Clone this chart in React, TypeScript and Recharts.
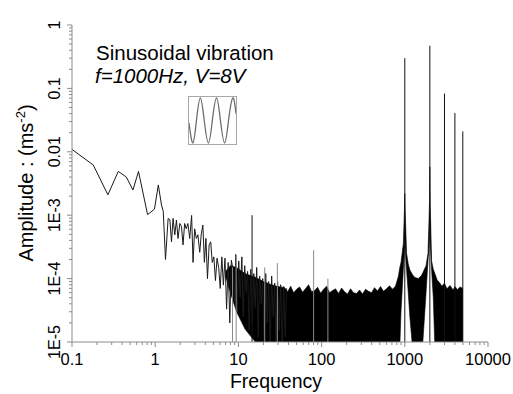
import { ComposedChart, LineChart, Line, Area, XAxis, YAxis } from "recharts";

// low frequency trace (Hz, m/s^2)
const lowFreq = [
  0.1, 0.18, 0.27, 0.36, 0.45, 0.54, 0.63, 0.81, 0.98, 1.09,
  1.19, 1.25, 1.33, 1.43, 1.5, 1.57, 1.64, 1.72, 1.8, 1.88,
  1.98, 2.07, 2.16, 2.26, 2.36, 2.47, 2.6, 2.74, 2.85, 2.98,
  3.12, 3.26, 3.43, 3.58, 3.74, 3.9, 4.07, 4.25, 4.45, 4.65,
  4.85, 5.07, 5.3, 5.54, 5.79, 6.05, 6.32, 6.6, 6.9, 7.21,
  7.54, 7.88, 8.23, 8.6, 9.0, 9.29, 9.69, 10.1, 10.5, 11.0,
  11.4, 11.9, 12.4, 12.9, 13.5, 14.1, 14.7, 15.3, 15.9, 16.6,
  17.3, 18.0, 18.8, 19.6, 20.4, 21.3, 22.2, 23.1, 24.1, 25.1,
  26.2, 27.3, 28.4, 29.6, 30.9, 32.2, 33.6, 35.0, 36.5, 38.0,
];
const lowAmp = [
  0.0109, 0.0062, 0.0021, 0.0049, 0.004, 0.0025, 0.0049, 0.00102, 0.00125, 0.003,
  0.00145, 0.00115, 0.0002, 0.00089, 0.00085, 0.00038, 0.00089, 0.00049, 0.00084, 0.00043,
  0.00074, 0.00066, 0.00034, 0.00074, 0.00061, 0.00074, 0.00043, 0.00099, 0.00018, 0.00061,
  0.00043, 0.00049, 0.00026, 0.00051, 0.0007, 0.00018, 0.00043, 0.0001, 0.00034, 0.00038,
  0.00018, 0.00022, 0.000093, 0.00021, 0.00015, 0.00007, 0.00022, 0.000079, 0.00021, 0.000033,
  0.00018, 0.00002, 0.000195, 0.00014, 0.000043, 0.00024, 0.00003, 0.00019, 0.00005, 0.00022,
  0.000025, 0.00016, 0.00006, 0.00013, 0.000015, 0.00014, 0.00002, 0.00012, 0.000035, 0.00015,
  0.000012, 0.00011, 0.00004, 0.0001, 0.000008, 0.00012, 0.00002, 0.00009, 0.000008, 0.00011,
  0.000025, 0.000085, 0.000008, 0.00009, 0.000015, 0.00008, 0.000008, 0.000075, 0.000012, 0.00007,
];

// dense noise band: lower / upper envelope
const F = 8e-6; // below the axis floor
const bandFreq = [
  7, 8, 9.5, 12, 16, 20, 25, 30,
  36.0, 39.1, 42.5, 46.1, 50.1, 54.4, 59.1, 64.3, 69.8, 75.9,
  82.4, 89.5, 97.3, 105.7, 114.8, 124.7, 135.5, 147.2, 159.9, 173.8,
  188.8, 205.1, 222.8, 242.1, 263, 285.8, 310.5, 337.3, 366.4, 398.1,
  432.5, 469.9, 510.5, 554.6, 602.6, 654.6, 711.2, 772.7, 839.5,
  870, 900, 960, 990, 1000, 1010, 1050, 1100, 1150, 1240,
  1310, 1450, 1570, 1630, 1800, 1900, 1980, 2000, 2020, 2100,
  2200, 2300, 2450, 2620, 2800, 3000, 3200, 3500, 3800, 4000,
  4300, 4600, 5000,
];
const bandLow = [
  1.1e-4, 6e-5, 3e-5, 1.6e-5, 1e-5, F, F, F,
  F, F, F, F, F, F, F, F, F, F,
  F, F, F, F, F, F, F, F, F, F,
  F, F, F, F, F, F, F, F, F, F,
  F, F, F, F, F, F, F, F, F,
  F, 3e-5, 1.37e-4, 3e-4, 5e-4, 3e-4, 1.37e-4, 6e-5, 2.5e-5, F,
  F, F, F, F, 6e-5, 1.9e-4, 4e-4, 8e-4, 4e-4, 1.37e-4,
  5e-5, F, F, F, F, F, F, F, F, F,
  F, F, F,
];
const bandHigh = [
  1.3e-4, 1.6e-4, 1.5e-4, 1.2e-4, 1.05e-4, 9e-5, 8e-5, 7.5e-5,
  7.2e-5, 6.2e-5, 7.6e-5, 6.0e-5, 6.8e-5, 7.4e-5, 6.1e-5, 7.0e-5, 8.0e-5, 6.2e-5,
  6.5e-5, 7.3e-5, 5.9e-5, 6.8e-5, 7.6e-5, 6.0e-5, 6.5e-5, 6.9e-5, 5.8e-5, 7.1e-5,
  6.2e-5, 5.7e-5, 6.9e-5, 6.0e-5, 5.8e-5, 6.6e-5, 5.7e-5, 6.8e-5, 6.3e-5, 6.0e-5,
  7.2e-5, 6.4e-5, 7.5e-5, 6.3e-5, 6.9e-5, 7.7e-5, 6.8e-5, 7.6e-5, 1.1e-4,
  1.5e-4, 1.8e-4, 3.5e-4, 1.2e-3, 2.2e-3, 1.2e-3, 2.5e-4, 1.7e-4, 1.37e-4, 1.15e-4,
  1.05e-4, 1.0e-4, 1.1e-4, 1.2e-4, 1.6e-4, 2.5e-4, 1.5e-3, 5.8e-3, 1.5e-3, 1.9e-4,
  1.4e-4, 1.2e-4, 9.5e-5, 8.6e-5, 7.6e-5, 8.5e-5, 6.9e-5, 7.8e-5, 6.6e-5, 7.5e-5,
  6.7e-5, 7.4e-5, 7.0e-5,
];

// harmonic lines and isolated spikes
const spikeFreq = [14.6, 1000, 2000, 3000, 4000, 4980];
const spikeTop = [1.0e-3, 0.3, 0.47, 0.083, 0.041, 0.021];
const greySpikeFreq = [8.5, 9.4, 20.7, 29.4, 80.2, 119];
const greySpikeTop = [1.5e-4, 2.3e-4, 1.5e-4, 1.76e-4, 2.8e-4, 1.0e-4];

// inset sketch of the excitation
const insetPhase = [0, 12, 23, 35, 47, 60, 72, 85, 97, 110, 122, 135, 145];
const insetValue = [-0.1, -1, 0, 1, 0, -1, 0, 1, 0, -1, 0, 1, 0.3];

const xMajor = [0.1, 1, 10, 100, 1000, 10000];
const xLabels = ["0.1", "1", "10", "100", "1000", "10000"];
const yMajor = [1e-5, 1e-4, 1e-3, 0.01, 0.1, 1];
const yLabels = ["1E-5", "1E-4", "1E-3", "0.01", "0.1", "1"];
const minorSteps = [2, 3, 4, 5, 6, 7, 8, 9];

const withMinor = (major: number[]) =>
  [...major, ...major.slice(0, -1).flatMap((d) => minorSteps.map((m) => d * m))].sort((a, b) => a - b);
const xTicks = withMinor(xMajor);
const yTicks = withMinor(yMajor);
const majorIndex = (major: number[], v: number) => major.findIndex((m) => Math.abs(v / m - 1) < 1e-6);

const lowData = lowFreq.map((f, i) => ({ f, a: lowAmp[i] }));
const bandData = bandFreq.map((f, i) => ({ f, r: [bandLow[i], bandHigh[i]] }));
const insetData = insetPhase.map((p, i) => ({ p, v: insetValue[i] }));

const AXIS = "#8c8c8c";
const FONT = "'Liberation Sans', Arial, sans-serif";

function BottomTick({ x, y, payload }: any) {
  const i = majorIndex(xMajor, payload.value);
  return (
    <g>
      <line x1={x} y1={y} x2={x} y2={y + (i >= 0 ? 5 : 3)} stroke={AXIS} />
      {i >= 0 && (
        <text x={x} y={y + 23} textAnchor="middle" fontSize={16.5} fontFamily={FONT} fill="#000">
          {xLabels[i]}
        </text>
      )}
    </g>
  );
}

function TopTick({ x, y, payload }: any) {
  const i = majorIndex(xMajor, payload.value);
  return <line x1={x} y1={y} x2={x} y2={y + (i >= 0 ? 5 : 3)} stroke={AXIS} />;
}

function LeftTick({ x, y, payload }: any) {
  const i = majorIndex(yMajor, payload.value);
  return (
    <g>
      <line x1={x} y1={y} x2={x - (i >= 0 ? 5 : 3)} y2={y} stroke={AXIS} />
      {i >= 0 && (
        <text
          transform={`translate(${x - 12},${y}) rotate(-90)`}
          textAnchor="middle"
          fontSize={16}
          fontFamily={FONT}
          fill="#000"
        >
          {yLabels[i]}
        </text>
      )}
    </g>
  );
}

function RightTick({ x, y, payload }: any) {
  const i = majorIndex(yMajor, payload.value);
  return <line x1={x} y1={y} x2={x - (i >= 0 ? 5 : 3)} y2={y} stroke={AXIS} />;
}

export default function App() {
  return (
    <div style={{ position: "absolute", left: 0, top: 0, width: 513, height: 394, background: "#fff" }}>
      <ComposedChart width={513} height={394} margin={{ top: 25, right: 25, bottom: 0, left: 0 }}>
        <XAxis
          dataKey="f"
          type="number"
          scale="log"
          domain={[0.1, 10000]}
          allowDataOverflow
          ticks={xTicks}
          interval={0}
          height={52}
          tickSize={0}
          tickMargin={0}
          tickLine={false}
          axisLine={{ stroke: AXIS }}
          tick={BottomTick}
        />
        <XAxis
          xAxisId="top"
          orientation="top"
          dataKey="f"
          type="number"
          scale="log"
          domain={[0.1, 10000]}
          allowDataOverflow
          ticks={xTicks}
          interval={0}
          height={0}
          tickSize={0}
          tickMargin={0}
          tickLine={false}
          axisLine={{ stroke: AXIS }}
          tick={TopTick}
        />
        <YAxis
          type="number"
          scale="log"
          domain={[1e-5, 1]}
          allowDataOverflow
          ticks={yTicks}
          interval={0}
          width={72}
          tickSize={0}
          tickMargin={0}
          tickLine={false}
          axisLine={{ stroke: AXIS }}
          tick={LeftTick}
        />
        <YAxis
          yAxisId="right"
          orientation="right"
          type="number"
          scale="log"
          domain={[1e-5, 1]}
          allowDataOverflow
          ticks={yTicks}
          interval={0}
          width={0}
          tickSize={0}
          tickMargin={0}
          tickLine={false}
          axisLine={{ stroke: AXIS }}
          tick={RightTick}
        />
        <Area
          data={bandData}
          dataKey="r"
          type="linear"
          fill="#000"
          fillOpacity={1}
          stroke="#000"
          strokeWidth={0.6}
          isAnimationActive={false}
        />
        <Line
          data={lowData}
          dataKey="a"
          type="linear"
          stroke="#1a1a1a"
          strokeWidth={1}
          dot={false}
          isAnimationActive={false}
        />
        {greySpikeFreq.map((f, i) => (
          <Line
            key={`g${i}`}
            data={[{ f, a: F }, { f, a: greySpikeTop[i] }]}
            dataKey="a"
            stroke="#8a8a8a"
            strokeWidth={1}
            dot={false}
            isAnimationActive={false}
          />
        ))}
        {spikeFreq.map((f, i) => (
          <Line
            key={`s${i}`}
            data={[{ f, a: F }, { f, a: spikeTop[i] }]}
            dataKey="a"
            stroke="#111"
            strokeWidth={1}
            dot={false}
            isAnimationActive={false}
          />
        ))}
      </ComposedChart>

      <svg
        width={513}
        height={394}
        style={{ position: "absolute", left: 0, top: 0, pointerEvents: "none" }}
        fontFamily={FONT}
      >
        <text x={96} y={60} fontSize={20.5} fill="#000">
          Sinusoidal vibration
        </text>
        <text x={95} y={83} fontSize={20.5} fontStyle="italic" fill="#000">
          f=1000Hz, V=8V
        </text>
        <text x={276} y={388} fontSize={19.5} textAnchor="middle" fill="#000">
          Frequency
        </text>
        <text transform="translate(33,183) rotate(-90)" fontSize={20} textAnchor="middle" fill="#000">
          Amplitude : (ms
          <tspan dy={-8} fontSize={13}>
            -2
          </tspan>
          <tspan dy={8}>)</tspan>
        </text>
      </svg>

      <div
        style={{
          position: "absolute",
          left: 188,
          top: 96,
          width: 47,
          height: 47,
          border: "1px solid #a8a8a8",
          background: "#fff",
        }}
      >
        <LineChart width={47} height={47} data={insetData} margin={{ top: 1, right: 0, bottom: 1, left: 0 }}>
          <XAxis dataKey="p" type="number" domain={[0, 145]} hide />
          <YAxis type="number" domain={[-1, 1]} hide />
          <Line
            dataKey="v"
            type="natural"
            stroke="#6e6e6e"
            strokeWidth={1.3}
            dot={false}
            isAnimationActive={false}
          />
        </LineChart>
      </div>
    </div>
  );
}
